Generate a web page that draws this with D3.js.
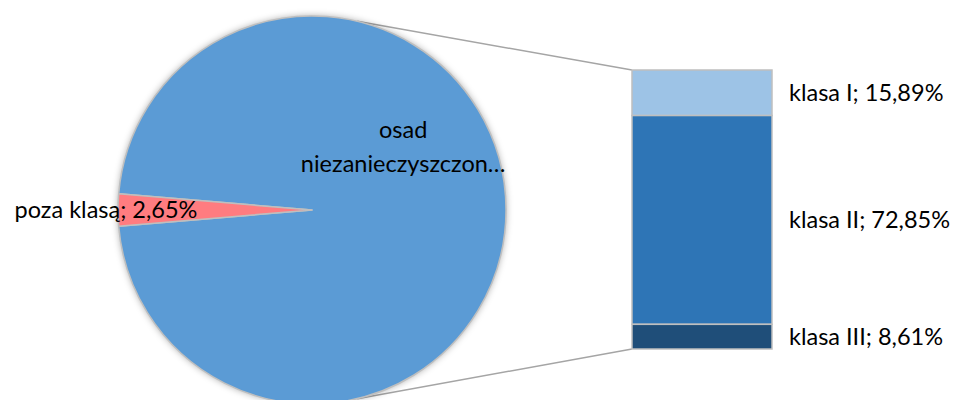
<!DOCTYPE html>
<html>
<head>
<meta charset="utf-8">
<script src="https://cdn.jsdelivr.net/npm/d3@7"></script>
<style>
  html, body { margin: 0; padding: 0; background: #fff; }
  svg { display: block; }
  text { font-family: Lato, "Open Sans", sans-serif; fill: #000; }
</style>
</head>
<body>
<svg id="chart" width="957" height="400"></svg>
<script>
// ---- data ----
const pieCategories = ["osad niezanieczyszczony", "poza klasą"];
const pieValues = [97.35, 2.65];
const pieLabelLines = [["osad", "niezanieczyszczon…"], ["poza klasą; 2,65%"]];
const barCategories = ["klasa I", "klasa II", "klasa III"];
const barValues = [15.89, 72.85, 8.61];
const barLabels = ["klasa I; 15,89%", "klasa II; 72,85%", "klasa III; 8,61%"];

const pieColors = ["#5B9BD5", "#FF7C80"];
const barColors = ["#9DC3E6", "#2E75B6", "#1F4E79"];

// ---- layout ----
const svg = d3.select("#chart");
const cx = 312, cy = 210, r = 194;
const barX0 = 632, barX1 = 772, barTop = 70, barBottom = 349;

const defs = svg.append("defs");
const f = defs.append("filter").attr("id", "shadow").attr("x", "-20%").attr("y", "-20%").attr("width", "140%").attr("height", "140%");
f.append("feDropShadow").attr("dx", 0).attr("dy", 0).attr("stdDeviation", 3.5).attr("flood-color", "#000").attr("flood-opacity", 0.35);

// pie
const total = d3.sum(pieValues);
const aggFrac = pieValues[0] / total;
const start = Math.PI / 2 - aggFrac * Math.PI;
const pie = d3.pie().sort(null).startAngle(start).endAngle(start + 2 * Math.PI);
const arcs = pie(pieValues);
const arc = d3.arc().innerRadius(0).outerRadius(r);

// connector lines from pie edge to bar corners
const connAngle = 13.5 * Math.PI / 180;
const topPt = [cx + r * Math.sin(connAngle), cy - r * Math.cos(connAngle)];
const botPt = [cx + r * Math.sin(connAngle), cy + r * Math.cos(connAngle)];

const yBar = d3.scaleLinear().domain([0, d3.sum(barValues)]).range([barTop, barBottom]);

svg.append("g").selectAll("line")
  .data([[topPt, [barX0, yBar(0)]], [botPt, [barX0, yBar(d3.sum(barValues))]]])
  .join("line")
  .attr("x1", d => d[0][0]).attr("y1", d => d[0][1])
  .attr("x2", d => d[1][0]).attr("y2", d => d[1][1])
  .attr("stroke", "#A5A5A5").attr("stroke-width", 1.5);

const gPie = svg.append("g").attr("transform", `translate(${cx},${cy})`);
gPie.append("circle").attr("r", r).attr("fill", pieColors[0]).attr("filter", "url(#shadow)");
gPie.selectAll("path").data(arcs).join("path")
  .attr("d", arc)
  .attr("fill", (d, i) => pieColors[i])
  .attr("stroke", "#BFBFBF").attr("stroke-width", 1.5).attr("stroke-linejoin", "round");

// pie labels
const fontSize = 23.5;
svg.append("text")
  .attr("x", cx + r * 0.47).attr("y", cy - r * 0.37)
  .attr("text-anchor", "middle").style("font-size", fontSize + "px")
  .selectAll("tspan").data(pieLabelLines[0]).join("tspan")
  .attr("x", cx + r * 0.47).attr("dy", (d, i) => i === 0 ? 0 : 34)
  .text(d => d);
svg.append("text")
  .attr("x", cx - r - 12).attr("y", cy + 8)
  .attr("text-anchor", "middle").style("font-size", fontSize + "px")
  .text(pieLabelLines[1][0]);

// bar
const cum = [];
barValues.reduce((acc, v, i) => { cum[i] = acc; return acc + v; }, 0);
const gBar = svg.append("g");
gBar.selectAll("rect").data(barValues).join("rect")
  .attr("x", barX0).attr("width", barX1 - barX0)
  .attr("y", (d, i) => yBar(cum[i]))
  .attr("height", (d, i) => yBar(cum[i] + d) - yBar(cum[i]))
  .attr("fill", (d, i) => barColors[i])
  .attr("stroke", "#BFBFBF").attr("stroke-width", 1.5);

gBar.selectAll("text").data(barValues).join("text")
  .attr("x", 789)
  .attr("y", (d, i) => yBar(cum[i] + d / 2))
  .attr("dy", "0.35em")
  .style("font-size", fontSize + "px")
  .text((d, i) => barLabels[i]);
</script>
</body>
</html>
